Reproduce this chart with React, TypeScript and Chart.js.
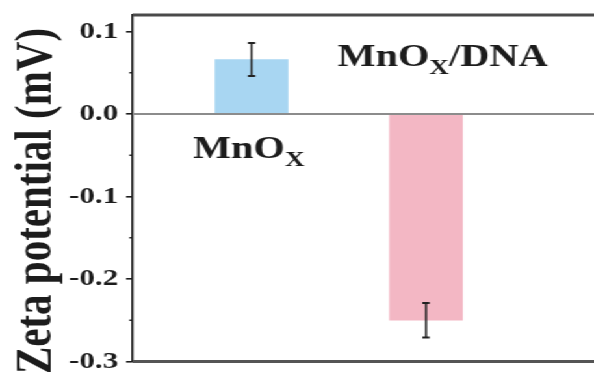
import React, { useEffect, useRef } from 'react';
import { Chart, registerables } from 'chart.js';

Chart.register(...registerables);

// Samples and measured zeta potentials (mV) with their standard deviations
const categories = ['MnO_X', 'MnO_X/DNA'];
const zetaValues = [0.066, -0.25];
const zetaErrors = [0.02, 0.021];
const barColors = ['#a8d6f2', '#f3b7c4'];

// Y axis ticks
const yTicks = [-0.3, -0.2, -0.1, 0.0, 0.1];
const yMinorTicks = [-0.25, -0.15, -0.05, 0.05];
const yTitle = 'Zeta potential (mV)';

const SERIF = '"Liberation Serif", "Times New Roman", serif';
const INK = '#1c1c1c';

// Canvas is laid out narrower and stretched horizontally to the final width
const BASE_W = 457;
const BASE_H = 378;
const STRETCH = 594 / BASE_W;

// Draws a label where "_X" marks a subscript character
function drawSubLabel(ctx: CanvasRenderingContext2D, text: string, x: number, y: number) {
  const big = `bold 31px ${SERIF}`;
  const small = `bold 21px ${SERIF}`;
  let cx = x;
  let i = 0;
  while (i < text.length) {
    if (text[i] === '_' && i + 1 < text.length) {
      ctx.font = small;
      ctx.fillText(text[i + 1], cx, y + 7.5);
      cx += ctx.measureText(text[i + 1]).width;
      i += 2;
    } else {
      let j = i;
      while (j < text.length && text[j] !== '_') j++;
      const part = text.slice(i, j);
      ctx.font = big;
      ctx.fillText(part, cx, y);
      cx += ctx.measureText(part).width;
      i = j;
    }
  }
}

const decorations = {
  id: 'decorations',
  afterDatasetsDraw(chart: any) {
    const { ctx, chartArea, scales } = chart;
    const xs = scales.x;
    const ys = scales.y;
    const zeroY = ys.getPixelForValue(0);
    ctx.save();

    // zero line
    ctx.strokeStyle = '#8c8c8c';
    ctx.lineWidth = 2;
    ctx.beginPath();
    ctx.moveTo(chartArea.left, zeroY);
    ctx.lineTo(chartArea.right, zeroY);
    ctx.stroke();

    // top and bottom frame lines
    ctx.strokeStyle = '#4a4a4a';
    ctx.lineWidth = 3;
    ctx.beginPath();
    ctx.moveTo(chartArea.left, chartArea.top);
    ctx.lineTo(chartArea.right, chartArea.top);
    ctx.stroke();
    ctx.strokeStyle = '#555';
    ctx.beginPath();
    ctx.moveTo(chartArea.left, chartArea.bottom);
    ctx.lineTo(chartArea.right, chartArea.bottom);
    ctx.stroke();

    // minor ticks on the y axis
    ctx.strokeStyle = INK;
    ctx.lineWidth = 1.5;
    yMinorTicks.forEach((v) => {
      const py = ys.getPixelForValue(v);
      ctx.beginPath();
      ctx.moveTo(chartArea.left - 2.5, py);
      ctx.lineTo(chartArea.left, py);
      ctx.stroke();
    });

    // error bars
    ctx.strokeStyle = '#222';
    zetaValues.forEach((v, i) => {
      const px = xs.getPixelForValue(i + 1);
      const hi = ys.getPixelForValue(v + zetaErrors[i]);
      const lo = ys.getPixelForValue(v - zetaErrors[i]);
      ctx.lineWidth = 1.6;
      ctx.beginPath();
      ctx.moveTo(px, hi);
      ctx.lineTo(px, lo);
      ctx.stroke();
      ctx.lineWidth = 2;
      ctx.beginPath();
      ctx.moveTo(px - 2.8, hi);
      ctx.lineTo(px + 2.8, hi);
      ctx.moveTo(px - 2.8, lo);
      ctx.lineTo(px + 2.8, lo);
      ctx.stroke();
    });

    // sample labels
    ctx.fillStyle = INK;
    ctx.textAlign = 'left';
    ctx.textBaseline = 'alphabetic';
    const x0 = xs.getPixelForValue(1);
    const x1 = xs.getPixelForValue(2);
    drawSubLabel(ctx, categories[0], x0 - 45, zeroY + 44);
    drawSubLabel(ctx, categories[1], x1 - 68, zeroY - 48);

    // y axis title
    ctx.translate(38.5, 201);
    ctx.rotate(-Math.PI / 2);
    ctx.textAlign = 'center';
    ctx.font = `bold 41px ${SERIF}`;
    ctx.fillText(yTitle, 0, 0);

    ctx.restore();
  },
};

export default function App() {
  const canvasRef = useRef<HTMLCanvasElement | null>(null);

  useEffect(() => {
    if (!canvasRef.current) return;
    const chart = new Chart(canvasRef.current, {
      type: 'bar',
      data: {
        datasets: [
          {
            data: zetaValues.map((v, i) => ({ x: i + 1, y: v })),
            backgroundColor: barColors,
            borderWidth: 0,
            barThickness: 56,
          },
        ],
      },
      options: {
        animation: false,
        responsive: true,
        maintainAspectRatio: false,
        layout: { padding: { top: 15, bottom: 16.5, left: 0, right: 0 } },
        plugins: { legend: { display: false }, tooltip: { enabled: false } },
        scales: {
          x: {
            type: 'linear',
            display: false,
            offset: false,
            min: 0.318,
            max: 2.963,
          },
          y: {
            min: -0.3,
            max: 0.12,
            afterFit: (s: any) => {
              s.width = 102;
              s.paddingTop = 0;
              s.paddingBottom = 0;
            },
            afterBuildTicks: (s: any) => {
              s.ticks = yTicks.map((v) => ({ value: v }));
            },
            border: { display: true, color: INK, width: 1.6 },
            grid: {
              display: true,
              drawOnChartArea: false,
              drawTicks: true,
              tickLength: 5,
              color: INK,
              lineWidth: 1.6,
            },
            ticks: {
              padding: 6,
              color: INK,
              font: { family: SERIF, size: 24, weight: 'bold' },
              callback: (v: any) => Number(v).toFixed(1),
            },
          },
        },
      },
      plugins: [decorations],
    });
    return () => chart.destroy();
  }, []);

  return (
    <div
      style={{
        position: 'absolute',
        left: 0,
        top: 0,
        width: BASE_W,
        height: BASE_H,
        background: '#fff',
        transform: `scaleX(${STRETCH})`,
        transformOrigin: '0 0',
      }}
    >
      <canvas ref={canvasRef} />
    </div>
  );
}
